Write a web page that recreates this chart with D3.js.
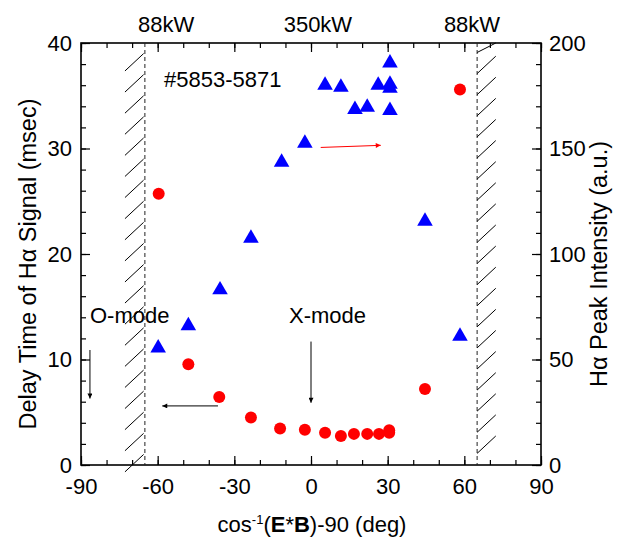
<!DOCTYPE html>
<html>
<head>
<meta charset="utf-8">
<script src="https://cdn.jsdelivr.net/npm/d3@7"></script>
<style>
    body { margin: 0; background: #fff; }
    text { font-family: "Liberation Sans", Arial, sans-serif; }
</style>
</head>
<body>
<div id="chart"></div>
<script>

// delay time of H-alpha signal (left axis, red circles)
let delayAngle = [-59.6, -48.0, -35.9, -23.5, -12.1, -2.4, 5.5, 11.7, 16.8, 22.0, 26.6, 30.6, 30.6, 44.6, 58.3];
let delayTime = [25.7, 9.55, 6.45, 4.5, 3.45, 3.35, 3.05, 2.75, 2.95, 2.95, 2.95, 3.3, 3.05, 7.2, 35.6];

// H-alpha peak intensity (right axis, blue triangles)
let peakAngle = [-59.8, -48.0, -35.6, -23.5, -11.5, -2.4, 5.5, 11.7, 17.2, 22.0, 26.3, 30.9, 30.9, 30.9, 30.9, 44.6, 58.3];
let peakIntensity = [55.5, 66, 83, 107.5, 143.5, 152.5, 180, 179, 168.5, 169.5, 180, 190.5, 180.5, 178.5, 168, 115.5, 61];

// tick values
let xTicks = [-90, -60, -30, 0, 30, 60, 90];
let yLeftTicks = [0, 10, 20, 30, 40];
let yRightTicks = [0, 50, 100, 150, 200];

// power labels above the frame
let powerLabels = ["88kW", "350kW", "88kW"];
let powerAngle = [-56.7, 2.7, 63];

// cut-off boundaries (dashed lines) and hatched bands
let cutoffAngle = [-65, 65];


class DelayVis {

    constructor(parentElement) {
        this.parentElement = parentElement;
        this.initVis();
    }

    initVis() {
        let vis = this;

        vis.margin = {top: 43, right: 78, bottom: 74, left: 81};
        vis.width = 619 - vis.margin.left - vis.margin.right;
        vis.height = 539 - vis.margin.top - vis.margin.bottom;

        vis.svg = d3.select("#" + vis.parentElement).append("svg")
            .attr("width", 619)
            .attr("height", 539);

        vis.g = vis.svg.append("g")
            .attr("transform", `translate(${vis.margin.left}, ${vis.margin.top})`);

        // scales
        vis.x = d3.scaleLinear().domain([-90, 90]).range([0, vis.width]);
        vis.yL = d3.scaleLinear().domain([0, 40]).range([vis.height, 0]);
        vis.yR = d3.scaleLinear().domain([0, 200]).range([vis.height, 0]);

        // arrow heads
        let defs = vis.svg.append("defs");
        [["head-black", "#000"], ["head-red", "#f00"]].forEach(([id, col]) => {
            defs.append("marker")
                .attr("id", id)
                .attr("viewBox", "0 0 10 10")
                .attr("refX", 10).attr("refY", 5)
                .attr("markerWidth", 7).attr("markerHeight", 5)
                .attr("markerUnits", "userSpaceOnUse")
                .attr("orient", "auto")
                .append("path")
                .attr("d", "M0,0L10,5L0,10Z")
                .attr("fill", col);
        });

        vis.drawAxes();
        vis.drawBands();
        vis.drawLabels();
        vis.updateVis();
    }

    drawAxes() {
        let vis = this;
        let fs = "22px";
        let fmt = d => String(d);   // plain hyphen for negatives

        let minorX = d3.range(-90, 91, 10);
        let minorL = d3.range(0, 41, 2);
        let minorR = d3.range(0, 201, 10);

        // minor ticks on all four sides
        vis.g.append("g").attr("transform", `translate(0, ${vis.height})`)
            .call(d3.axisBottom(vis.x).tickValues(minorX).tickSize(-5).tickSizeOuter(0).tickFormat(""));
        vis.g.append("g")
            .call(d3.axisTop(vis.x).tickValues(minorX).tickSize(-5).tickSizeOuter(0).tickFormat(""));
        vis.g.append("g")
            .call(d3.axisLeft(vis.yL).tickValues(minorL).tickSize(-5).tickSizeOuter(0).tickFormat(""));
        vis.g.append("g").attr("transform", `translate(${vis.width}, 0)`)
            .call(d3.axisRight(vis.yR).tickValues(minorR).tickSize(-5).tickSizeOuter(0).tickFormat(""));

        // major ticks with labels
        vis.g.append("g").attr("transform", `translate(0, ${vis.height})`)
            .call(d3.axisBottom(vis.x).tickValues(xTicks).tickSize(-9).tickSizeOuter(0).tickPadding(13).tickFormat(fmt))
            .selectAll("text").style("font-size", fs);
        vis.g.append("g")
            .call(d3.axisTop(vis.x).tickValues(xTicks).tickSize(-9).tickSizeOuter(0).tickFormat(""));
        vis.g.append("g")
            .call(d3.axisLeft(vis.yL).tickValues(yLeftTicks).tickSize(-9).tickSizeOuter(0).tickPadding(9).tickFormat(fmt))
            .selectAll("text").style("font-size", fs);
        vis.g.append("g").attr("transform", `translate(${vis.width}, 0)`)
            .call(d3.axisRight(vis.yR).tickValues(yRightTicks).tickSize(-9).tickSizeOuter(0).tickPadding(8).tickFormat(fmt))
            .selectAll("text").style("font-size", fs);

        vis.g.selectAll(".domain").remove();
        vis.g.selectAll(".tick line").attr("stroke", "#000").attr("stroke-width", 1.2);
        vis.g.selectAll(".tick text").attr("fill", "#000");

        // frame
        vis.g.append("rect")
            .attr("width", vis.width)
            .attr("height", vis.height)
            .attr("fill", "none")
            .attr("stroke", "#000")
            .attr("stroke-width", 1.6);
    }

    drawBands() {
        let vis = this;

        // dashed cut-off lines
        vis.g.selectAll(".cutoff")
            .data(cutoffAngle)
            .enter().append("line")
            .attr("class", "cutoff")
            .attr("x1", d => vis.x(d)).attr("x2", d => vis.x(d))
            .attr("y1", 0).attr("y2", vis.height)
            .attr("stroke", "#222")
            .attr("stroke-width", 1)
            .attr("stroke-dasharray", "4,3");

        // hatching outside each cut-off line
        let steps = d3.range(1, 40, 2);
        vis.g.append("g").selectAll("line")
            .data(steps)
            .enter().append("line")
            .attr("x1", vis.x(-72.8)).attr("y1", d => vis.yL(d - 1.65))
            .attr("x2", vis.x(-65.5)).attr("y2", d => vis.yL(d))
            .attr("stroke", "#000").attr("stroke-width", 1);

        vis.g.append("g").selectAll("line")
            .data(steps.map(d => d + 0.1))
            .enter().append("line")
            .attr("x1", vis.x(65)).attr("y1", d => vis.yL(d))
            .attr("x2", vis.x(72.3)).attr("y2", d => Math.max(0, vis.yL(d + 1.65)))
            .attr("stroke", "#000").attr("stroke-width", 1);
    }

    drawLabels() {
        let vis = this;

        // power labels on top
        vis.g.selectAll(".power")
            .data(powerLabels)
            .enter().append("text")
            .attr("class", "power")
            .attr("x", (d, i) => vis.x(powerAngle[i]))
            .attr("y", -11)
            .attr("text-anchor", "middle")
            .style("font-size", "22px")
            .text(d => d);

        vis.g.append("text")
            .attr("x", vis.x(-57.5)).attr("y", vis.yL(35.8))
            .style("font-size", "22px")
            .text("#5853-5871");

        vis.g.append("text")
            .attr("x", vis.x(-86.5)).attr("y", vis.yL(13.5))
            .style("font-size", "22px")
            .text("O-mode");

        vis.g.append("text")
            .attr("x", vis.x(-8.6)).attr("y", vis.yL(13.5))
            .style("font-size", "22px")
            .text("X-mode");

        // annotation arrows [x1, y1, x2, y2] in data units (left axis)
        let arrows = [
            {p: [-86.5, 10.9, -86.5, 6.3], c: "#000", m: "head-black"},
            {p: [0, 11.7, 0, 5.9], c: "#000", m: "head-black"},
            {p: [-36.4, 5.6, -58.2, 5.6], c: "#000", m: "head-black"},
            {p: [3.8, 30.1, 27.3, 30.3], c: "#f00", m: "head-red"}
        ];
        vis.g.selectAll(".arrow")
            .data(arrows)
            .enter().append("line")
            .attr("class", "arrow")
            .attr("x1", d => vis.x(d.p[0])).attr("y1", d => vis.yL(d.p[1]))
            .attr("x2", d => vis.x(d.p[2])).attr("y2", d => vis.yL(d.p[3]))
            .attr("stroke", d => d.c)
            .attr("stroke-width", 1)
            .attr("marker-end", d => `url(#${d.m})`);

        // axis titles
        let xt = vis.svg.append("text")
            .attr("x", vis.margin.left + vis.width / 2 + 1)
            .attr("y", 532)
            .attr("text-anchor", "middle")
            .style("font-size", "22px");
        xt.append("tspan").text("cos");
        xt.append("tspan").attr("dy", -8).style("font-size", "13px").text("-1");
        xt.append("tspan").attr("dy", 8).text("(");
        xt.append("tspan").style("font-weight", "bold").text("E");
        xt.append("tspan").text("*");
        xt.append("tspan").style("font-weight", "bold").text("B");
        xt.append("tspan").text(")-90 (deg)");

        vis.svg.append("text")
            .attr("transform", `translate(36, ${vis.margin.top + vis.height / 2 + 10}) rotate(-90)`)
            .attr("text-anchor", "middle")
            .style("font-size", "23.5px")
            .text("Delay Time of H\u03b1 Signal (msec)");

        vis.svg.append("text")
            .attr("transform", `translate(607, ${vis.margin.top + vis.height / 2 + 10}) rotate(-90)`)
            .attr("text-anchor", "middle")
            .style("font-size", "23.5px")
            .text("H\u03b1 Peak Intensity (a.u.)");
    }

    updateVis() {
        let vis = this;

        // blue triangles - peak intensity
        vis.g.selectAll(".tri")
            .data(peakIntensity)
            .enter().append("path")
            .attr("class", "tri")
            .attr("d", d3.symbol().type(d3.symbolTriangle).size(105))
            .attr("transform", (d, i) => `translate(${vis.x(peakAngle[i])}, ${vis.yR(d)})`)
            .attr("fill", "#0000ff");

        // red circles - delay time
        vis.g.selectAll(".dot")
            .data(delayTime)
            .enter().append("circle")
            .attr("class", "dot")
            .attr("cx", (d, i) => vis.x(delayAngle[i]))
            .attr("cy", d => vis.yL(d))
            .attr("r", 6)
            .attr("fill", "#ff0000");
    }
}

new DelayVis("chart");

</script>
</body>
</html>
